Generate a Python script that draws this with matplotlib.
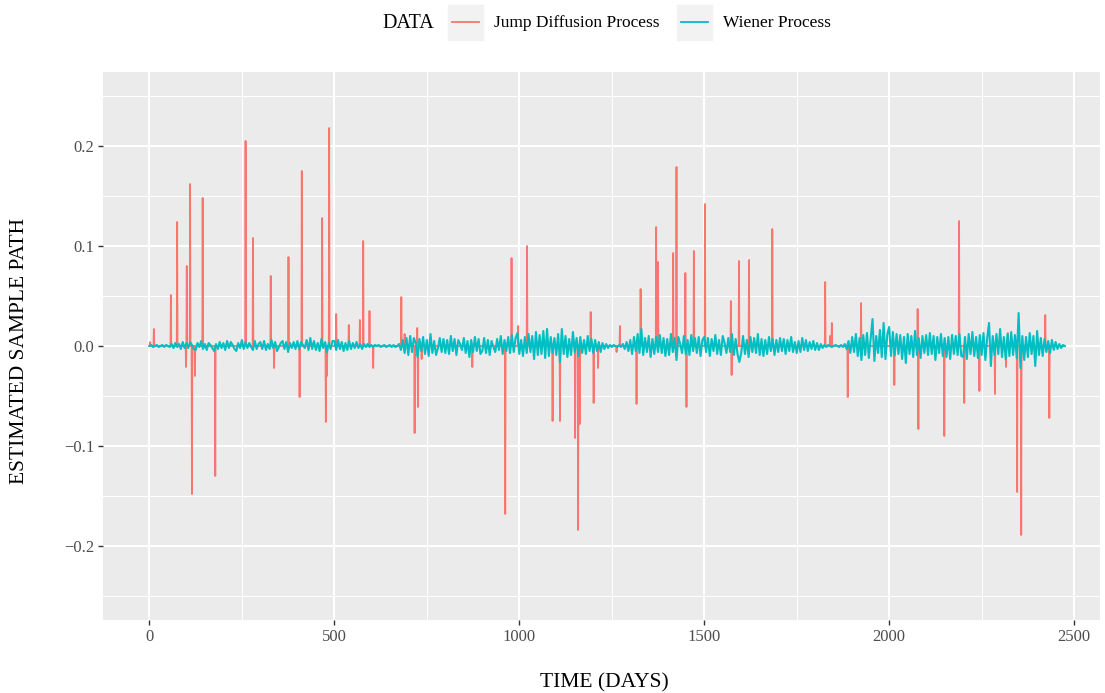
import numpy as np
import matplotlib.pyplot as plt
from matplotlib.patches import Rectangle
from matplotlib.lines import Line2D
from matplotlib.ticker import MultipleLocator

plt.rcParams['font.family'] = ['Liberation Serif', 'DejaVu Serif']

# jump diffusion path: zero except at the jump days
jump_days = [2, 12, 58, 75, 99, 101, 110, 115, 123, 144, 178, 260, 280, 328, 337,
             376, 406, 412, 467, 477, 480, 486, 505, 539, 569, 578, 595, 605,
             681, 690, 717, 724, 726, 736, 873, 962, 979, 997, 1021, 1090, 1110,
             1151, 1159, 1163, 1193, 1201, 1213, 1263, 1272, 1317, 1328, 1370,
             1375, 1416, 1425, 1449, 1452, 1472, 1502, 1572, 1574, 1594, 1621,
             1684, 1827, 1840, 1845, 1888, 1924, 2014, 2077, 2079, 2149, 2189,
             2203, 2244, 2286, 2316, 2321, 2346, 2357, 2422, 2433]
jump_sizes = [0.004, 0.017, 0.051, 0.124, -0.021, 0.080, 0.162, -0.148, -0.030,
              0.148, -0.130, 0.205, 0.108, 0.070, -0.022, 0.089, -0.051, 0.175,
              0.128, -0.076, -0.030, 0.218, 0.032, 0.021, 0.026, 0.105, 0.035,
              -0.022, 0.049, 0.012, -0.087, 0.018, -0.061, -0.013, -0.021, -0.168,
              0.088, 0.020, 0.100, -0.075, -0.075, -0.092, -0.184, -0.078, 0.034,
              -0.057, -0.022, -0.006, 0.020, -0.058, 0.057, 0.119, 0.084, 0.093,
              0.179, 0.073, -0.061, 0.095, 0.142, 0.045, -0.029, 0.085, 0.086,
              0.117, 0.064, 0.010, 0.023, -0.051, 0.043, -0.039, 0.037, -0.083,
              -0.090, 0.125, -0.057, -0.045, -0.048, -0.021, 0.013, -0.146, -0.189,
              0.031, -0.072]
n_days = 2476

# wiener process, one value every 5 days (in thousandths)
wiener_step = 5
wiener_milli = [
    0, 1, -1, 0, 1, -1, 0, 1, -1, 1, 0, -1, 2, -2, 3, -1, 2, -3, 4, -2,
    3, -2, 4, 1, -3, -4, 3, -1, 5, -3, 2, -4, 3, 1, -2, -5, 2, -3, 4, -2,
    3, -4, 5, -2, 4, 1, -3, -5, 3, -2, 6, -3, 4, -2, 3, -1, -4, 5, -3, 2,
    4, -3, 5, -4, 2, -3, 6, -2, 4, -5, -1, 3, 5, -3, 4, -6, 3, -2, 4, -3,
    5, -3, 4, 1, -2, 6, -4, 8, -3, 5, -4, 3, -5, 7, -2, 4, -6, 3, -3, 5,
    5, -4, 6, -3, 4, -5, 3, -4, 5, -3, 3, -2, 4, -2, 2, -3, 2, -1, 2, -1,
    1, -1, 1, 0, 1, -1, 0, 1, -1, 0, 1, -1, 1, -1, 0, 2, -4, 6, -7, 8,
    -9, 10, -6, 8, 3, -11, 7, -5, 9, -8, 6, -10, 12, -7, 5, -9, -2, 8, -6, 7,
    -7, 6, -8, 10, -5, 7, -9, 6, 2, -4, 8, -7, 5, -11, 6, -6, 9, -5, 7, -8,
    -5, 8, -7, 6, -9, 5, -1, -6, 7, -4, 10, -8, 6, -5, 9, -7, 11, -6, 8, 13,
    -8, 6, -10, 9, -7, 12, -6, 10, -13, 14, -9, 11, -8, 15, -12, 17, -10, 9, -7, 8,
    -9, 12, -16, 17, -8, 10, -11, 7, -9, 14, -6, 8, -10, 9, -7, 6, -8, 10, -5, 7,
    -7, 6, -5, 4, -6, 3, -3, 2, -2, 1, -1, 1, 0, -1, 1, -1, 2, -3, 4, -5,
    6, -8, 9, -5, 12, -7, 17, -9, 8, -6, 10, -11, 7, -8, 9, -6, 11, -7, 8, -10,
    7, -9, 12, -6, 8, -14, 9, 2, -7, 10, -8, 6, -9, 11, -5, 8, -7, 9, -10, 6,
    9, -6, 8, -10, 7, -5, 11, -8, 6, -9, 10, 3, -7, 8, -6, 12, -9, 7, -8, -16,
    -7, 10, -8, 6, -11, 9, -6, 8, -7, 12, -9, 7, -10, 6, -8, 9, -5, 7, -9, 6,
    -6, 8, -5, 7, -8, 6, -5, 9, -6, 4, -7, 5, -6, 8, -4, 6, -5, 4, -3, 5,
    -4, 3, -4, 2, -2, 1, -1, 1, 0, -1, 0, 1, 0, -1, 1, -1, 2, -3, 5, -7,
    9, -6, 12, -10, 8, -14, 11, -9, 13, -12, 8, 27, -15, 10, -7, 16, -11, 23, -13, 12,
    19, -10, 14, -9, 12, -8, 11, -13, 9, -17, 12, -8, 10, -11, 15, -9, 8, -12, 10, -7,
    11, -9, 13, -8, 10, -14, 9, -7, 12, -10, 8, -11, 9, -13, 11, -8, 10, -9, 12, -10,
    -11, 9, -13, 12, -8, 14, -10, 9, -12, 11, -9, 13, -14, 8, 23, -20, 10, -9, 12, -8,
    17, -11, 9, -13, 12, -10, 14, -9, 11, -12, 33, -22, 10, -14, 9, -11, 13, -8, 10, -20,
    15, -9, 8, -10, 7, -6, 5, -7, 6, -4, 4, -3, 2, -2, 1, 0]

red = '#F8766D'
cyan = '#00BFC4'

jump_path = np.zeros(n_days)
jump_path[jump_days] = jump_sizes
wiener_days = np.arange(len(wiener_milli)) * wiener_step
wiener_path = np.array(wiener_milli) / 1000.0

fig = plt.figure(figsize=(11.05, 6.93), dpi=100)
ax = fig.add_axes([103/1105, 73/693, 997/1105, 548/693])
ax.set_facecolor('#EBEBEB')

ax.plot(np.arange(n_days), jump_path, color=red, lw=1.3, zorder=3)
ax.plot(wiener_days, wiener_path, color=cyan, lw=1.5, zorder=4)

ax.set_xlim(-125.5, 2570)
ax.set_ylim(-0.274, 0.274)
ax.xaxis.set_major_locator(MultipleLocator(500))
ax.xaxis.set_minor_locator(MultipleLocator(250))
ax.yaxis.set_major_locator(MultipleLocator(0.1))
ax.yaxis.set_minor_locator(MultipleLocator(0.05))
ax.yaxis.set_major_formatter(lambda v, p: f'{v:.1f}'.replace('-', '\u2212'))
ax.grid(which='major', color='white', lw=1.5, zorder=1)
ax.grid(which='minor', color='white', lw=0.75, zorder=1)
ax.set_axisbelow(True)
for s in ax.spines.values():
    s.set_visible(False)
ax.tick_params(which='major', length=3.5, width=1, color='#333333',
               labelcolor='#4D4D4D', labelsize=12, pad=3)
ax.tick_params(which='minor', length=0)

ax.set_xlabel('TIME (DAYS)', fontsize=15.5, va='center')
ax.xaxis.set_label_coords(0.503, -0.115)
ax.set_ylabel('ESTIMATED SAMPLE PATH', fontsize=15.5, va='center')
ax.yaxis.set_label_coords(-0.0833, 0.49)

# legend drawn along the top, ggplot style
def fx(px):
    return px / 1105

def fy(py):
    return 1 - py / 693

fig.text(fx(382), fy(23), 'DATA', fontsize=14.5, va='center', ha='left')
for x0, col, lab in [(448, red, 'Jump Diffusion Process'), (677, cyan, 'Wiener Process')]:
    fig.patches.append(Rectangle((fx(x0), fy(40)), 35/1105, 35/693,
                                 transform=fig.transFigure, color='#F2F2F2'))
    fig.lines.append(Line2D([fx(x0 + 4), fx(x0 + 31)], [fy(22), fy(22)],
                            transform=fig.transFigure, color=col, lw=1.3))
    fig.text(fx(x0 + 46), fy(23), lab, fontsize=12.5, va='center', ha='left')

fig.savefig('out.png', dpi=100)
